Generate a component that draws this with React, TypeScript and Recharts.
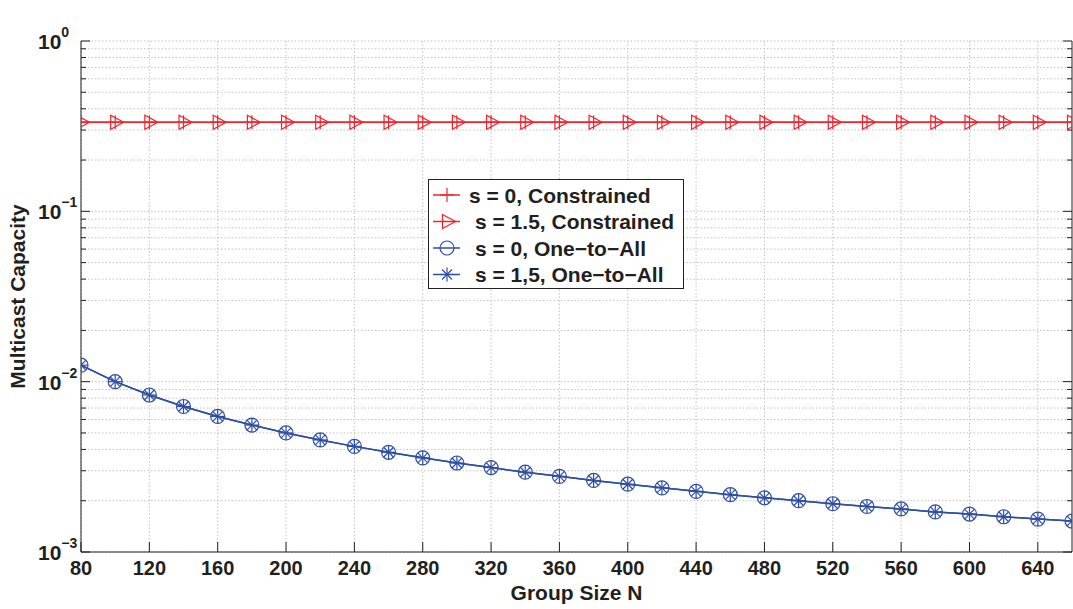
import React from 'react';
import { LineChart, Line, XAxis, YAxis, CartesianGrid, Legend } from 'recharts';

const groupSize = [80, 100, 120, 140, 160, 180, 200, 220, 240, 260, 280, 300, 320, 340, 360, 380, 400, 420, 440, 460, 480, 500, 520, 540, 560, 580, 600, 620, 640, 660];

// red curves sit flat at ~1/3
const constrainedS0 = [0.333, 0.333, 0.333, 0.333, 0.333, 0.333, 0.333, 0.333, 0.333, 0.333, 0.333, 0.333, 0.333, 0.333, 0.333, 0.333, 0.333, 0.333, 0.333, 0.333, 0.333, 0.333, 0.333, 0.333, 0.333, 0.333, 0.333, 0.333, 0.333, 0.333];
const constrainedS15 = [0.333, 0.333, 0.333, 0.333, 0.333, 0.333, 0.333, 0.333, 0.333, 0.333, 0.333, 0.333, 0.333, 0.333, 0.333, 0.333, 0.333, 0.333, 0.333, 0.333, 0.333, 0.333, 0.333, 0.333, 0.333, 0.333, 0.333, 0.333, 0.333, 0.333];
const oneToAllS0 = [0.0125, 0.0100, 0.00835, 0.00715, 0.00625, 0.00556, 0.00500, 0.00455, 0.00417, 0.00385, 0.00357, 0.00333, 0.00313, 0.00294, 0.00278, 0.00263, 0.00250, 0.00238, 0.00227, 0.00217, 0.00208, 0.00200, 0.00192, 0.00185, 0.00179, 0.00172, 0.00167, 0.00161, 0.00156, 0.00152];
const oneToAllS15 = [0.0125, 0.0100, 0.00835, 0.00715, 0.00625, 0.00556, 0.00500, 0.00455, 0.00417, 0.00385, 0.00357, 0.00333, 0.00313, 0.00294, 0.00278, 0.00263, 0.00250, 0.00238, 0.00227, 0.00217, 0.00208, 0.00200, 0.00192, 0.00185, 0.00179, 0.00172, 0.00167, 0.00161, 0.00156, 0.00152];

const legendNames = ['s = 0, Constrained', 's = 1.5, Constrained', 's = 0, One\u2212to\u2212All', 's = 1,5, One\u2212to\u2212All'];

const xTicks = [80, 120, 160, 200, 240, 280, 320, 360, 400, 440, 480, 520, 560, 600, 640];
const yMajor = [0.001, 0.01, 0.1, 1];
const yTicks = [
  0.001, 0.002, 0.003, 0.004, 0.005, 0.006, 0.007, 0.008, 0.009,
  0.01, 0.02, 0.03, 0.04, 0.05, 0.06, 0.07, 0.08, 0.09,
  0.1, 0.2, 0.3, 0.4, 0.5, 0.6, 0.7, 0.8, 0.9, 1,
];
const yExponents = ['\u22123', '\u22122', '\u22121', '0'];

const RED = '#f5222b';
const BLUE = '#2f4fa6';
const INK = '#231f20';
const GRID = '#c2c2c2';
const FONT = '"Liberation Sans", Arial, Helvetica, sans-serif';

const data = groupSize.map((n, i) => ({
  n,
  s0c: constrainedS0[i],
  s15c: constrainedS15[i],
  s0a: oneToAllS0[i],
  s15a: oneToAllS15[i],
}));

const PlusMark = ({ cx, cy, color }: any) => (
  <g stroke={color} strokeWidth={1.2} fill="none">
    <line x1={cx - 7} x2={cx + 7} y1={cy} y2={cy} />
    <line x1={cx} x2={cx} y1={cy - 7} y2={cy + 7} />
  </g>
);

const TriMark = ({ cx, cy, color }: any) => (
  <polygon
    points={`${cx - 4.5},${cy - 7} ${cx - 4.5},${cy + 7} ${cx + 8.5},${cy}`}
    stroke={color}
    strokeWidth={1.2}
    fill="none"
  />
);

const CircleMark = ({ cx, cy, color }: any) => (
  <circle cx={cx} cy={cy} r={7} stroke={color} strokeWidth={1.2} fill="none" />
);

const StarMark = ({ cx, cy, color }: any) => (
  <g stroke={color} strokeWidth={1.2}>
    <line x1={cx - 7} x2={cx + 7} y1={cy} y2={cy} />
    <line x1={cx} x2={cx} y1={cy - 7} y2={cy + 7} />
    <line x1={cx - 5} x2={cx + 5} y1={cy - 5} y2={cy + 5} />
    <line x1={cx - 5} x2={cx + 5} y1={cy + 5} y2={cy - 5} />
  </g>
);

const markers = [PlusMark, TriMark, CircleMark, StarMark];
const colors = [RED, RED, BLUE, BLUE];

const BottomTick = ({ x, y, payload }: any) => (
  <g>
    <line x1={x} x2={x} y1={y} y2={y - 10} stroke={INK} />
    <text x={x} y={y + 23} textAnchor="middle" fontSize={20} fontWeight="bold" fontFamily={FONT} fill={INK}>
      {payload.value}
    </text>
  </g>
);

const TopTick = ({ x, y }: any) => <line x1={x} x2={x} y1={y} y2={y + 10} stroke={INK} />;

const LeftTick = ({ x, y, payload }: any) => {
  const k = yMajor.indexOf(payload.value);
  return (
    <g>
      <line x1={x} x2={x + (k >= 0 ? 9 : 5)} y1={y} y2={y} stroke={INK} />
      {k >= 0 && (
        <text x={x - 43} y={y + 8} fontSize={21} fontWeight="bold" fontFamily={FONT} fill={INK}>
          10
          <tspan dy={-12} fontSize={14}>{yExponents[k]}</tspan>
        </text>
      )}
    </g>
  );
};

const RightTick = ({ x, y, payload }: any) => {
  const major = yMajor.includes(payload.value);
  return <line x1={x} x2={x - (major ? 9 : 5)} y1={y} y2={y} stroke={INK} />;
};

const renderTitle = (props: any) => {
  const vb = props.viewBox;
  return (
    <text x={vb.x + vb.width / 2} y={25} textAnchor="middle" fontSize={21} fontWeight="bold" fontFamily={FONT} fill={INK}>
      k = 16, d=3
    </text>
  );
};

const renderXLabel = (props: any) => {
  const vb = props.viewBox;
  return (
    <text x={vb.x + vb.width / 2} y={600} textAnchor="middle" fontSize={21} fontWeight="bold" fontFamily={FONT} fill={INK}>
      Group Size N
    </text>
  );
};

const renderYLabel = (props: any) => {
  const vb = props.viewBox;
  const cy = vb.y + vb.height / 2;
  return (
    <text
      x={25}
      y={cy}
      transform={`rotate(-90, 25, ${cy})`}
      textAnchor="middle"
      fontSize={21}
      fontWeight="bold"
      fontFamily={FONT}
      fill={INK}
    >
      Multicast Capacity
    </text>
  );
};

const LegendBox = () => (
  <svg width={256} height={110} style={{ display: 'block' }}>
    <rect x={0.5} y={0.5} width={255} height={109} fill="#fff" stroke={INK} />
    {legendNames.map((name, i) => {
      const cy = 16 + 26.5 * i;
      const Mark = markers[i];
      return (
        <g key={name}>
          <line x1={5} x2={32} y1={cy} y2={cy} stroke={colors[i]} strokeWidth={1.5} />
          <Mark cx={19} cy={cy} color={colors[i]} />
          <text x={i === 0 ? 41 : 47} y={cy + 7.5} fontSize={21} fontWeight="bold" fontFamily={FONT} fill={INK}>
            {name}
          </text>
        </g>
      );
    })}
  </svg>
);

const seriesKeys = ['s0c', 's15c', 's0a', 's15a'];

export default function App() {
  return (
    <div style={{ width: 1073, height: 609, background: '#fff' }}>
      <style>{'body{margin:0}'}</style>
      <LineChart width={1073} height={609} data={data} margin={{ top: 41, right: 0, bottom: 0, left: 0 }}>
        <CartesianGrid
          horizontalValues={yTicks}
          verticalValues={xTicks}
          stroke={GRID}
          strokeDasharray="1.5 2"
        />
        <XAxis
          dataKey="n"
          type="number"
          domain={[80, 660]}
          allowDataOverflow
          ticks={xTicks}
          interval={0}
          height={57}
          tickSize={0}
          tickMargin={0}
          tickLine={false}
          tick={<BottomTick />}
          axisLine={{ stroke: INK, strokeWidth: 1 }}
          label={renderXLabel}
        />
        <XAxis
          xAxisId="top"
          orientation="top"
          dataKey="n"
          type="number"
          domain={[80, 660]}
          allowDataOverflow
          ticks={xTicks}
          interval={0}
          height={0}
          tickSize={0}
          tickMargin={0}
          tickLine={false}
          tick={<TopTick />}
          axisLine={{ stroke: INK, strokeWidth: 1 }}
          label={renderTitle}
        />
        <YAxis
          type="number"
          scale="log"
          domain={[0.001, 1]}
          allowDataOverflow
          ticks={yTicks}
          interval={0}
          width={81}
          tickSize={0}
          tickMargin={0}
          tickLine={false}
          tick={<LeftTick />}
          axisLine={{ stroke: INK, strokeWidth: 1 }}
          label={renderYLabel}
        />
        <YAxis
          yAxisId="right"
          orientation="right"
          type="number"
          scale="log"
          domain={[0.001, 1]}
          allowDataOverflow
          ticks={yTicks}
          interval={0}
          width={1}
          tickSize={0}
          tickMargin={0}
          tickLine={false}
          tick={<RightTick />}
          axisLine={{ stroke: INK, strokeWidth: 1 }}
        />
        {seriesKeys.map((key, i) => {
          const Mark = markers[i];
          return (
            <Line
              key={key}
              dataKey={key}
              name={legendNames[i]}
              stroke={colors[i]}
              strokeWidth={1.5}
              isAnimationActive={false}
              dot={(p: any) => <Mark key={`${key}-${p.index}`} cx={p.cx} cy={p.cy} color={colors[i]} />}
              activeDot={false}
            />
          );
        })}
        <Legend
          layout="vertical"
          align="center"
          verticalAlign="middle"
          content={<LegendBox />}
          wrapperStyle={{ left: 428, top: 179, width: 256, height: 110 }}
        />
      </LineChart>
    </div>
  );
}
